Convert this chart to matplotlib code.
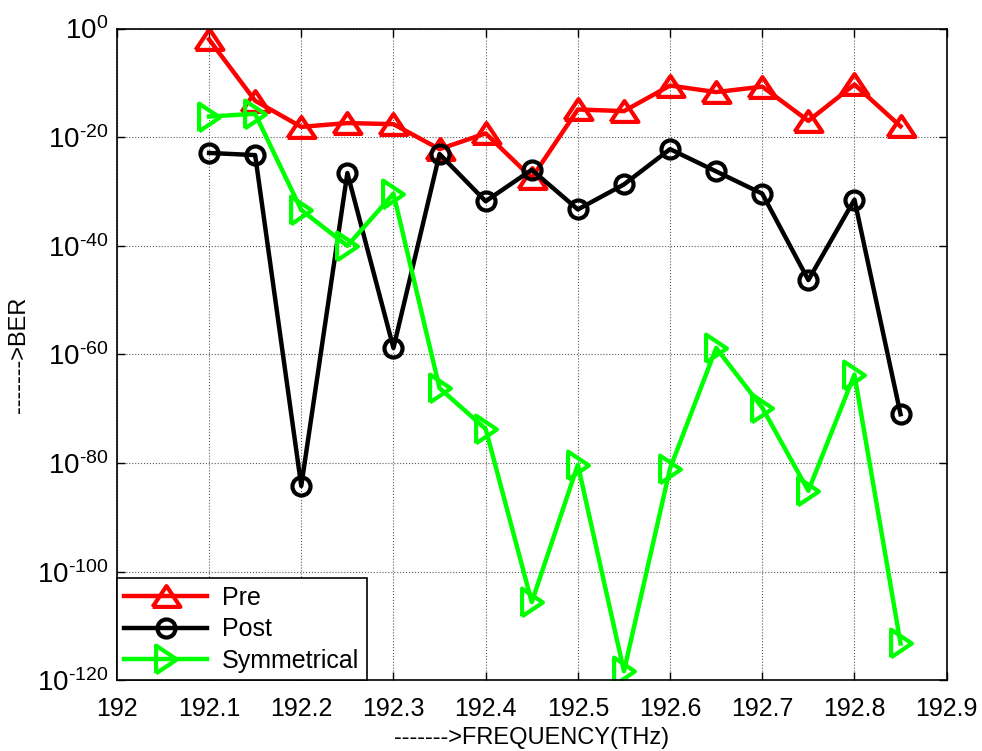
import numpy as np
import matplotlib.pyplot as plt
from matplotlib.ticker import FixedLocator, NullLocator, FuncFormatter

plt.rcParams['font.family'] = ['Liberation Sans', 'DejaVu Sans']
plt.rcParams['mathtext.fontset'] = 'custom'
plt.rcParams['mathtext.rm'] = 'Liberation Sans'
plt.rcParams['mathtext.it'] = 'Liberation Sans'
plt.rcParams['axes.unicode_minus'] = False

freq = [192.1, 192.15, 192.2, 192.25, 192.3, 192.35, 192.4, 192.45,
        192.5, 192.55, 192.6, 192.65, 192.7, 192.75, 192.8, 192.85]

# BER exponents (log10)
pre_exp = [-2.0, -13.3, -18.1, -17.4, -17.6, -22.2, -19.3, -27.5,
           -14.9, -15.2, -10.5, -11.7, -10.7, -17.0, -10.3, -18.0]
post_exp = [-22.9, -23.3, -84.2, -26.6, -58.8, -23.1, -31.8, -26.0,
            -33.3, -28.7, -22.2, -26.3, -30.4, -46.3, -31.5, -71.0]
sym_exp = [-16.2, -15.7, -33.4, -40.0, -30.4, -66.2, -73.7, -105.6,
           -80.3, -118.3, -81.0, -58.8, -69.8, -85.1, -63.7, -113.2]

pre = 10.0 ** np.array(pre_exp)
post = 10.0 ** np.array(post_exp)
sym = 10.0 ** np.array(sym_exp)

up_tri = [(-1, -0.75), (1, -0.75), (0, 0.75), (-1, -0.75)]
right_tri = [(-0.75, -1), (-0.75, 1), (0.75, 0), (-0.75, -1)]


def exp_label(v, pos):
    e = int(round(np.log10(v)))
    if e < 0:
        return r'$10^{\text{-}%d}$' % (-e)
    return r'$10^{%d}$' % e


fig = plt.figure(figsize=(9.82, 7.51), dpi=100)
ax = fig.add_axes([0.119, 0.094, 0.845, 0.868])

ax.plot(freq, pre, color='red', lw=3.2, marker=up_tri, ms=20, mfc='none',
        mew=3, label='Pre')
ax.plot(freq, post, color='black', lw=3.2, marker='o', ms=13, mfc='none',
        mew=3, label='Post')
ax.plot(freq, sym, color='#00ff00', lw=3.2, marker=right_tri, ms=20, mfc='none',
        mew=3, label='Symmetrical')

ax.set_yscale('log')
ax.set_ylim(1e-120, 1e0)
ax.set_xlim(192, 192.9)
ax.yaxis.set_major_locator(FixedLocator([10.0 ** e for e in range(-120, 1, 20)]))
ax.yaxis.set_major_formatter(FuncFormatter(exp_label))
ax.yaxis.set_minor_locator(NullLocator())
ax.set_xticks(np.round(np.arange(192, 192.91, 0.1), 1))
ax.set_xticklabels(['192', '192.1', '192.2', '192.3', '192.4', '192.5',
                    '192.6', '192.7', '192.8', '192.9'])

ax.tick_params(direction='in', top=True, right=True, labelsize=18, length=6, width=1)
ax.tick_params(axis='x', pad=12)
ax.tick_params(axis='y', pad=6, labelsize=20)
ax.grid(True, linestyle=':', color='0.35', lw=0.8)
for s in ax.spines.values():
    s.set_linewidth(1.2)

ax.set_xlabel('------->FREQUENCY(THz)', fontsize=17, labelpad=4)
ax.set_ylabel('------->BER', fontsize=17)
ax.yaxis.set_label_coords(-0.105, 0.5)

leg = ax.legend(loc='lower left', borderaxespad=0, fontsize=18, fancybox=False,
                framealpha=1, edgecolor='black', handlelength=3.3, labelspacing=0.3,
                handletextpad=0.6, borderpad=0.3)
leg.get_frame().set_linewidth(1.2)

plt.savefig('out.png', dpi=100)
